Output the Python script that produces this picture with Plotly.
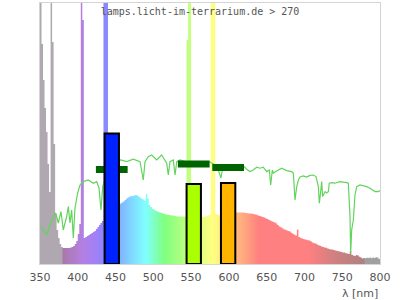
import plotly.graph_objects as go

# ---------------- data ----------------
# lamp spectrum, 2 nm bins (centres), relative intensity
spec_wl = list(range(351, 800, 2))
spec_val = [
    140, 110, 92, 78, 66, 50, 36, 140, 111, 60,
    25, 17, 13, 10, 8.5, 8, 8, 8, 8, 8,
    8.3, 8.5, 9, 10, 11.5, 15, 20, 140, 122, 13,
    13.5, 14, 14.5, 15, 15.5, 16, 16.5, 17.5, 18.5, 19.5,
    20.5, 21.5, 140, 140, 140, 23, 24, 25, 26, 27,
    28, 29, 29.5, 30.3, 30.8, 31.2, 32, 32.8, 33.3, 33.7,
    33.9, 34, 34.3, 34.5, 34.3, 33.7, 33.2, 32.6, 32.2, 31.7,
    35, 32.8, 29.5, 28.5, 27.6, 27.2, 26.8, 26.4, 26, 25.8,
    25.6, 25.3, 25, 24.8, 24.6, 24.5, 24.4, 24.3, 24.2, 24,
    23.9, 23.7, 23.7, 23.7, 23.7, 23.6, 23.6, 112, 140, 140,
    23.5, 23.5, 23.5, 23.5, 23.5, 23.5, 23.5, 23.5, 23.5, 23.7,
    24, 24.2, 24.5, 140, 140, 140, 25, 24.6, 24.5, 24.5,
    24.8, 25, 25.2, 25.4, 25.5, 25.6, 25.7, 25.7, 25.7, 25.7,
    25.7, 25.7, 25.8, 25.8, 25.7, 25.6, 25.5, 25.4, 25.3, 25.3,
    25.1, 25, 24.8, 24.6, 24.3, 24, 23.8, 23.5, 23.3, 22.9,
    22.5, 22.1, 21.8, 21.4, 21, 20.7, 20.2, 19.5, 18.8, 18.4,
    17.9, 17.4, 17.1, 16.8, 16.5, 16.2, 15.6, 15.1, 14.6, 14.3,
    17.3, 13.5, 13.1, 12.8, 12.5, 12.3, 12.1, 11.9, 11.7, 11.2,
    10.8, 10.4, 10.2, 9.8, 9.4, 9.1, 8.8, 8.5, 8.3, 8.1,
    7.8, 7.5, 7.3, 7.2, 7, 6.8, 6.6, 6.4, 6.2, 6,
    5.8, 5.7, 5.4, 5.2, 5, 6.5, 4.6, 4.3, 4, 4.5,
    4.2, 3.6, 3.2, 2.8, 3, 2.9, 3.1, 3, 3.2, 2.9,
    3.3, 3, 3.4, 3.2, 2.5,
]

# daylight reference spectrum (green line)
sun_wl = [351.3, 355.7, 358.9, 363.2, 367.6, 370.7, 374.2, 377.8, 380.8, 385.3,
          387.5, 389.7, 391.9, 394.1, 396.3, 399.9, 402.9, 407.3, 413.9, 420.5,
          425, 428.1, 430.7, 433, 440, 450, 456.8, 464.7, 473.5, 482.4,
          486.7, 489, 493.3, 497.8, 504.4, 511, 517.7, 519.8, 522, 526.4,
          528.7, 531, 535.3, 545, 560, 575, 581.6, 586, 589.5, 592,
          605, 615, 620.6, 623.5, 627.9, 632.3, 636.8, 641.2, 645.5, 650,
          653.5, 655.3, 657.5, 658.8, 665.4, 669.9, 676.5, 683.1, 685.3, 687.5,
          689.8, 692, 694.1, 698.5, 702.9, 707.3, 711.7, 715.3, 718.4, 719.7,
          721.5, 722.8, 724.1, 727.2, 729.4, 731.6, 732.9, 736.1, 740.4, 747.1,
          756, 758.1, 760.3, 761.2, 762.5, 764.7, 766.9, 769.2, 773.5, 782.4,
          786.8, 793.4, 797.8, 800]
sun_val = [18.7, 16.2, 14.5, 19.5, 24, 25.5, 20.5, 26.2, 17, 23.7,
           28.7, 20.5, 27, 13, 28, 35.5, 39.5, 41.2, 42, 40.4,
           41.2, 38, 27, 38.7, 48, 51, 52, 51.2, 52.4, 51.2,
           42, 51.2, 53.7, 54.5, 52, 54.5, 50.4, 44.5, 51.2, 52,
           44.5, 51.2, 52, 51, 50.5, 51, 49.5, 47, 43, 48.5,
           48.5, 48, 48.7, 47.4, 46.2, 47, 48.4, 47.9, 48.4, 46.2,
           47, 39.5, 47, 45.5, 47, 47.9, 46.7, 46.2, 45.4, 32,
           38.7, 42, 43.5, 44, 43.5, 44.3, 44.5, 43.7, 38.7, 30.4,
           36.2, 41.2, 33.7, 36.2, 35.5, 36.2, 40.4, 40.7, 40.4, 41.2,
           40.7, 40.4, 23.7, 5.5, 17, 22, 34.5, 38.7, 39.5, 38.7,
           37.9, 36.2, 36.2, 36.7]

# colour bands (lamp) and daylight band levels
band_center = [445, 553.5, 599]
band_val = [65.3, 40, 40.5]
day_val = [47.25, 50, 48.25]

tick_vals = [350, 400, 450, 500, 550, 600, 650, 700, 750, 800]

# ---------------- styles ----------------
band_color = ['#0022ff', '#aaff00', '#ffb400']
color_stops = [
    (350, (176, 168, 176)), (379.5, (176, 168, 176)), (380, (168, 120, 168)),
    (405, (180, 128, 224)), (425, (160, 128, 248)), (437, (136, 136, 255)),
    (455, (128, 176, 255)), (475, (128, 224, 255)), (490, (128, 255, 255)),
    (505, (128, 255, 176)), (515, (128, 255, 128)), (530, (160, 255, 128)),
    (546, (192, 255, 128)), (565, (232, 255, 128)), (578, (255, 255, 128)),
    (590, (255, 240, 128)), (605, (255, 192, 128)), (620, (255, 168, 128)),
    (640, (255, 128, 128)), (705, (255, 128, 128)), (740, (208, 128, 128)),
    (779, (176, 128, 128)), (780, (160, 160, 160)), (800, (160, 160, 160)),
]
XMIN, XMAX, YMAX = 350, 800, 130.5
cs = [[(w - XMIN) / (XMAX - XMIN), 'rgb(%d,%d,%d)' % c] for w, c in color_stops]

fig = go.Figure()

edges = [w - 1 for w in spec_wl] + [spec_wl[-1] + 1]
fig.add_trace(go.Scatter(
    x=edges, y=spec_val + [spec_val[-1]], mode='lines',
    line=dict(width=0, shape='hv', simplify=False), fill='tozeroy',
    fillgradient=dict(type='horizontal', colorscale=cs, start=XMIN, stop=XMAX),
    hoverinfo='skip', showlegend=False))

fig.add_trace(go.Scatter(
    x=sun_wl, y=sun_val, mode='lines',
    line=dict(color='#62d45c', width=1.2, simplify=False),
    hoverinfo='skip', showlegend=False))

half = 21
seg_x, seg_y = [], []
for c, v in zip(band_center, day_val):
    seg_x += [c - half, c + half, None]
    seg_y += [v, v, None]
fig.add_trace(go.Scatter(
    x=seg_x, y=seg_y, mode='lines', line=dict(color='#006400', width=7),
    hoverinfo='skip', showlegend=False))

fig.add_trace(go.Bar(
    x=band_center, y=band_val, width=19,
    marker=dict(color=band_color, line=dict(color='black', width=2)),
    xaxis='x2', yaxis='y2', hoverinfo='skip', showlegend=False))

axis_line = '#d4d4d4'
fig.update_layout(
    width=400, height=300,
    margin=dict(l=40, r=20, t=3, b=36),
    paper_bgcolor='white', plot_bgcolor='white',
    xaxis=dict(range=[XMIN, XMAX], tickvals=tick_vals, showgrid=False, zeroline=False,
               showline=True, mirror=True, linecolor=axis_line, linewidth=1,
               ticks='outside', ticklen=3, tickcolor='rgba(0,0,0,0)',
               tickfont=dict(family='DejaVu Sans', size=11, color='#555')),
    yaxis=dict(range=[0, YMAX], showticklabels=False, showgrid=False, zeroline=False,
               showline=True, mirror=True, linecolor=axis_line, linewidth=1, ticks=''),
    xaxis2=dict(range=[XMIN, XMAX], overlaying='x', anchor='y2', visible=False),
    yaxis2=dict(range=[0, YMAX], overlaying='y', anchor='x2', visible=False),
    title=dict(text='lamps.licht-im-terrarium.de &gt; 270', x=0.5, xref='container',
               xanchor='center', y=1 - 11 / 300, yref='container', yanchor='middle',
               font=dict(family='DejaVu Sans Mono', size=10, color='#555')),
    annotations=[dict(text='λ [nm]', x=1, xref='paper', xanchor='right',
                      y=-29 / 261, yref='paper', yanchor='middle', showarrow=False,
                      font=dict(family='DejaVu Sans', size=11, color='#555'))],
)

fig.write_html('out.html')
